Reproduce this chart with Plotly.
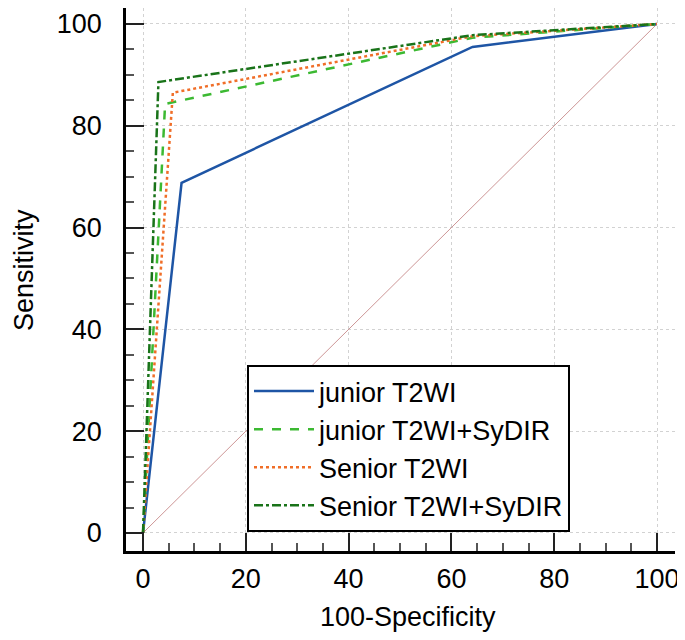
import plotly.graph_objects as go

# ROC curve points (100-Specificity, Sensitivity)
junior_t2wi_x = [0, 7.5, 64.1, 100]
junior_t2wi_y = [0, 68.8, 95.5, 100]

junior_sydir_x = [0, 4.3, 64.1, 100]
junior_sydir_y = [0, 84.3, 97.3, 100]

senior_t2wi_x = [0, 5.8, 64.1, 100]
senior_t2wi_y = [0, 86.5, 97.6, 100]

senior_sydir_x = [0, 3.0, 64.1, 100]
senior_sydir_y = [0, 88.6, 97.8, 100]

diag_x = [0, 100]
diag_y = [0, 100]

tick_vals = [0, 20, 40, 60, 80, 100]

FONT = "Liberation Sans, Arial, sans-serif"

fig = go.Figure()

fig.add_trace(go.Scatter(x=diag_x, y=diag_y, mode="lines",
                         line=dict(color="rgb(205,150,150)", width=1),
                         showlegend=False, hoverinfo="skip"))
fig.add_trace(go.Scatter(x=junior_t2wi_x, y=junior_t2wi_y, mode="lines",
                         name="junior T2WI",
                         line=dict(color="rgb(30,85,165)", width=2.5)))
fig.add_trace(go.Scatter(x=junior_sydir_x, y=junior_sydir_y, mode="lines",
                         name="junior T2WI+SyDIR",
                         line=dict(color="rgb(60,185,50)", width=2.5, dash="dash")))
fig.add_trace(go.Scatter(x=senior_t2wi_x, y=senior_t2wi_y, mode="lines",
                         name="Senior T2WI",
                         line=dict(color="rgb(240,110,40)", width=2.5, dash="dot")))
fig.add_trace(go.Scatter(x=senior_sydir_x, y=senior_sydir_y, mode="lines",
                         name="Senior T2WI+SyDIR",
                         line=dict(color="rgb(25,115,25)", width=2.5, dash="dashdot")))

axis_common = dict(
    tickvals=tick_vals,
    showline=True, linecolor="black", linewidth=2.5,
    ticks="inside", ticklen=18, tickwidth=2, tickcolor="#222",
    minor=dict(dtick=5, tick0=0, ticks="inside", ticklen=8, tickwidth=1.5,
               tickcolor="#555", showgrid=False),
    showgrid=True, gridcolor="rgb(210,210,210)", gridwidth=1, griddash="dot",
    zeroline=False, automargin=False, ticklabeloverflow="allow",
    tickfont=dict(family=FONT, size=27, color="black"),
)

fig.update_xaxes(range=[-3.31, 103.5], ticklabelstandoff=2, **axis_common)
fig.update_yaxes(range=[-3.54, 103.14], ticklabelstandoff=16, **axis_common)

fig.add_annotation(text="100-Specificity", xref="paper", yref="paper",
                   x=0.5137, y=-0.1215, xanchor="center", yanchor="middle",
                   showarrow=False, font=dict(family=FONT, size=27, color="black"))
fig.add_annotation(text="Sensitivity", xref="paper", yref="paper",
                   x=-0.1858, y=0.5175, xanchor="center", yanchor="middle",
                   textangle=-90, showarrow=False,
                   font=dict(family=FONT, size=27, color="black"))

fig.update_layout(
    width=685, height=640,
    margin=dict(l=118, r=18, t=0, b=97),
    paper_bgcolor="white", plot_bgcolor="white",
    legend=dict(
        x=0.2204, y=0.3425, xanchor="left", yanchor="top",
        bgcolor="white", bordercolor="black", borderwidth=2,
        font=dict(family=FONT, size=27, color="black"),
        traceorder="normal", itemwidth=60,
        tracegroupgap=0,
    ),
)

fig.write_html("out.html")
